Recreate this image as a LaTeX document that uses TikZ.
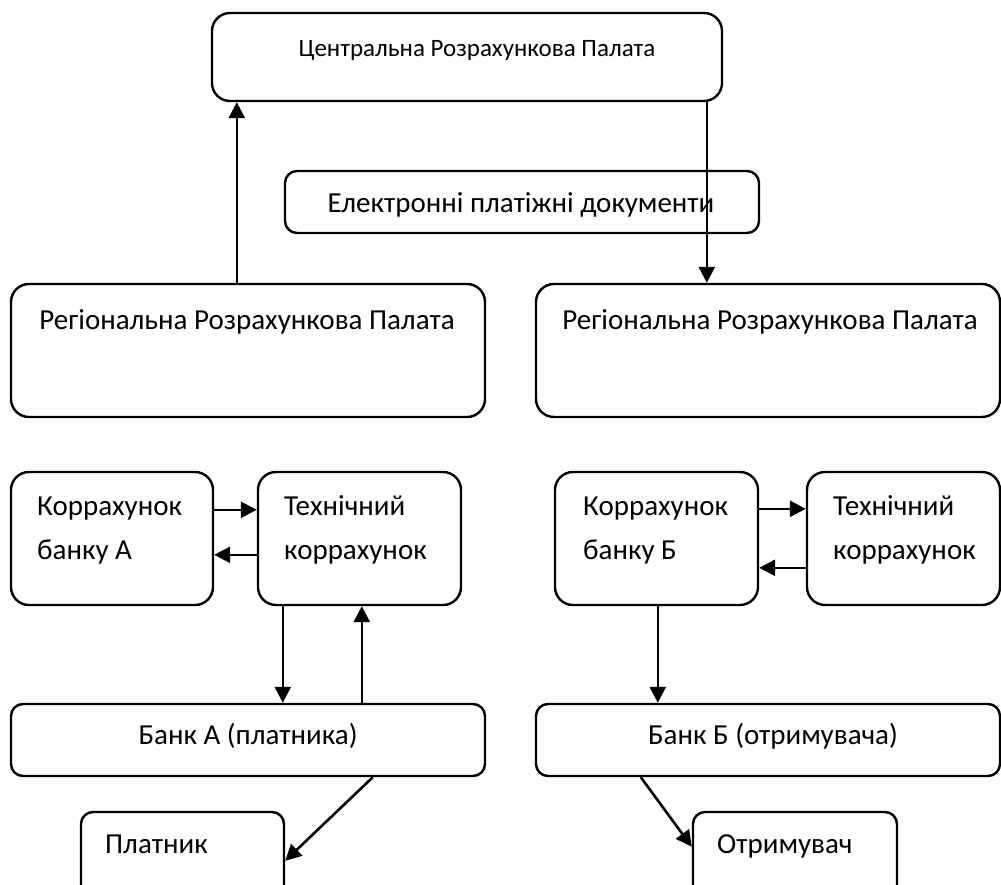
\documentclass[tikz,border=0pt]{standalone}
\usepackage{fontspec}
\setmainfont{Carlito}
\usetikzlibrary{arrows.meta}
\begin{document}
\begin{tikzpicture}[x=1pt,y=-1pt,
  box/.style={draw, line width=2.4pt, rounded corners=18pt, inner sep=0pt},
  wbox/.style={draw, line width=2.4pt, rounded corners=12pt, inner sep=0pt},
  lbl/.style={anchor=base west, inner sep=0pt, font=\fontsize{29}{44}\selectfont, align=left},
  clbl/.style={anchor=base, inner sep=0pt, font=\fontsize{29}{44}\selectfont},
  arr/.style={line width=2.6pt, -{Triangle[length=16pt,width=16pt]}}]
\useasboundingbox (0,0) rectangle (1001,885);
\clip (0,0) rectangle (1001,885);
% boxes
\node[box, minimum width=510pt, minimum height=88pt] (central) at (467,57) {};
\node[wbox, minimum width=474pt, minimum height=62pt] (mid) at (522,202) {};
\node[box, minimum width=474pt, minimum height=133pt] (regL) at (248,350.5) {};
\node[box, minimum width=464pt, minimum height=133pt] (regR) at (768,350.5) {};
\node[box, minimum width=202pt, minimum height=133pt] (korA) at (112,538.5) {};
\node[box, minimum width=203pt, minimum height=133pt] (techA) at (359.5,538.5) {};
\node[box, minimum width=203pt, minimum height=133pt] (korB) at (656.5,538.5) {};
\node[box, minimum width=193pt, minimum height=133pt] (techB) at (903.5,538.5) {};
\node[wbox, minimum width=474pt, minimum height=72pt] (bankA) at (248,740) {};
\node[wbox, minimum width=464pt, minimum height=72pt] (bankB) at (768,740) {};
\node[wbox, minimum width=203pt, minimum height=100pt] (plat) at (182.5,862) {};
\node[wbox, minimum width=204pt, minimum height=100pt] (otr) at (795,862) {};
% labels
\node[clbl, font=\fontsize{25}{30}\selectfont] (tcentral) at (477,57) {Центральна Розрахункова Палата};
\node[clbl] (tmid) at (521,213) {Електронні платіжні документи};
\node[clbl] (tregL) at (247,330) {Регіональна Розрахункова Палата};
\node[clbl] (tregR) at (770,330) {Регіональна Розрахункова Палата};
\node[lbl] (tkorA) at (37,559) {Коррахунок\\банку А};
\node[lbl] (ttechA) at (284,559) {Технічний\\коррахунок};
\node[lbl] (tkorB) at (583,559) {Коррахунок\\банку Б};
\node[lbl] (ttechB) at (833,559) {Технічний\\коррахунок};
\node[clbl] (tbankA) at (248,744) {Банк А (платника)};
\node[clbl] (tbankB) at (773,744) {Банк Б (отримувача)};
\node[lbl] (tplat) at (105,853) {Платник};
\node[lbl] (totr) at (717,853) {Отримувач};
% connectors
\draw[arr] ([xshift=227pt]regL.north west) -- ([xshift=26pt]central.south west);
\draw[arr] ([xshift=496pt]central.south west) -- ([xshift=172pt]regR.north west);
\draw[arr] ([yshift=-39pt]korA.north east) -- ([yshift=-39pt]techA.north west);
\draw[arr] ([yshift=-84pt]techA.north west) -- ([yshift=-84pt]korA.north east);
\draw[arr] ([xshift=26pt]techA.south west) -- ([xshift=273pt]bankA.north west);
\draw[arr] ([xshift=352pt]bankA.north west) -- ([xshift=105pt]techA.south west);
\draw[arr] ([yshift=-38pt]korB.north east) -- ([yshift=-38pt]techB.north west);
\draw[arr] ([yshift=-97pt]techB.north west) -- ([yshift=-97pt]korB.north east);
\draw[arr] ([xshift=104pt]korB.south west) -- ([xshift=123pt]bankB.north west);
\draw[arr] ([xshift=363pt]bankA.south west) -- ([yshift=-50pt]plat.north east);
\draw[arr] ([xshift=106pt]bankB.south west) -- ([yshift=-36pt]otr.north west);
\end{tikzpicture}
\end{document}
